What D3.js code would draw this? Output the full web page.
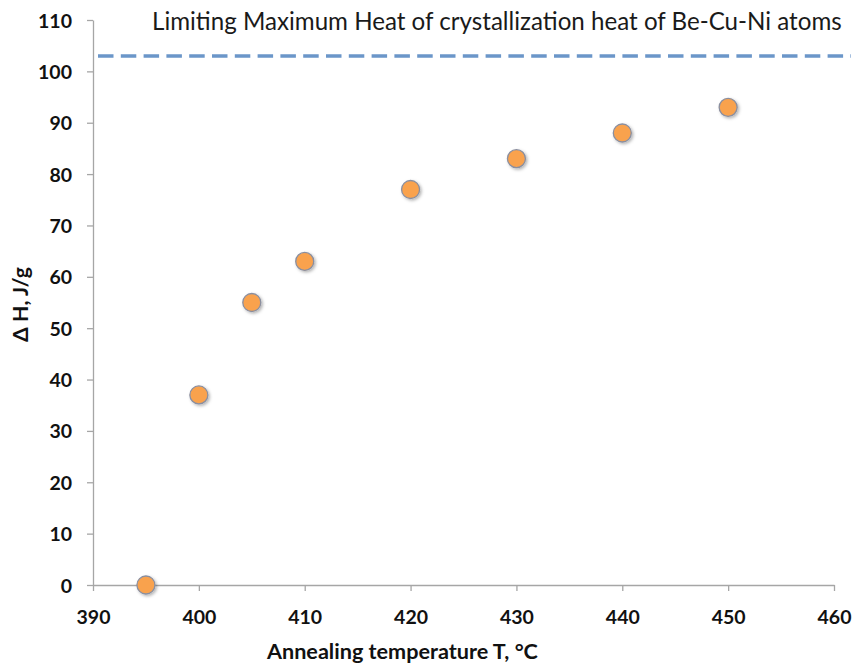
<!DOCTYPE html>
<html><head><meta charset="utf-8">
<script src="https://cdn.jsdelivr.net/npm/d3@7"></script>
<style>body{margin:0;background:#fff}svg{display:block}</style>
</head><body>
<svg id="c" width="853" height="666"></svg>
<script>
const temps = [395, 400, 405, 410, 420, 430, 440, 450];
const heats = [0, 37, 55, 63, 77, 83, 88, 93];
const limitValue = 103;
const xTicks = [390, 400, 410, 420, 430, 440, 450, 460];
const yTicks = [0, 10, 20, 30, 40, 50, 60, 70, 80, 90, 100, 110];
const titleText = "Limiting Maximum Heat of crystallization heat of Be-Cu-Ni atoms";
const xLabel = "Annealing temperature T, °C";
const yLabel = "Δ H, J/g";

const svg = d3.select("#c");
const font = "Lato, 'Open Sans', sans-serif";
const x = d3.scaleLinear().domain([390, 460]).range([93, 834]);
const y = d3.scaleLinear().domain([0, 110]).range([585, 20]);

const defs = svg.append("defs");
const f = defs.append("filter").attr("id","sh").attr("x","-50%").attr("y","-50%").attr("width","200%").attr("height","200%");
f.append("feDropShadow").attr("dx",1.5).attr("dy",1.5).attr("stdDeviation",1.5).attr("flood-color","#000").attr("flood-opacity",0.3);

function fit(sel, w, base) {
  const tw = sel.node().getComputedTextLength();
  sel.style("font-size", (base*w/tw).toFixed(2)+"px");
}

// axes
const xa = svg.append("g").attr("transform",`translate(0,${y(0)})`)
  .call(d3.axisBottom(x).tickValues(xTicks).tickSize(6).tickSizeOuter(0).tickPadding(26));
const ya = svg.append("g").attr("transform",`translate(${x(390)},0)`)
  .call(d3.axisLeft(y).tickValues(yTicks).tickSize(6).tickSizeOuter(0).tickPadding(15));
[xa, ya].forEach(a => {
  a.select(".domain").attr("stroke","#a6a6a6").attr("stroke-width",1.3);
  a.selectAll(".tick line").attr("stroke","#a6a6a6").attr("stroke-width",1.3);
  a.selectAll(".tick text").attr("fill","#111").style("font-family",font).style("font-weight","bold").style("font-size","19.5px");
});
ya.selectAll(".tick text").attr("dy","0.36em");
xa.selectAll(".tick text").attr("dy","0.36em");

// limit dashed line
svg.append("line")
  .attr("x1", x(390)+5).attr("x2", 851)
  .attr("y1", y(limitValue)).attr("y2", y(limitValue))
  .attr("stroke","#6b96c9").attr("stroke-width",3.6).attr("stroke-dasharray","15.5 7.3");

// title
const t = svg.append("text").attr("x",152).attr("y",29.5)
  .style("font-family",font).style("font-size","21px").attr("fill","#1a1a1a").text(titleText);
fit(t, 690, 21);

// points
svg.append("g").selectAll("circle").data(temps).join("circle")
  .attr("cx",(d)=>x(d)).attr("cy",(d,i)=>y(heats[i])).attr("r",9)
  .attr("fill","#f9a24e").attr("stroke","#8a8fa0").attr("stroke-width",1.3)
  .attr("filter","url(#sh)");

// axis labels
const xl = svg.append("text").attr("x",267).attr("y",659)
  .style("font-family",font).style("font-weight","bold").style("font-size","20px").attr("fill","#111").text(xLabel);
fit(xl, 271, 20);
const yl = svg.append("text").attr("transform",`translate(28,304.5) rotate(-90)`).attr("text-anchor","middle")
  .style("font-family",font).style("font-weight","bold").style("font-size","20px").attr("fill","#111").text(yLabel);
fit(yl, 75, 20);
</script>
</body></html>
